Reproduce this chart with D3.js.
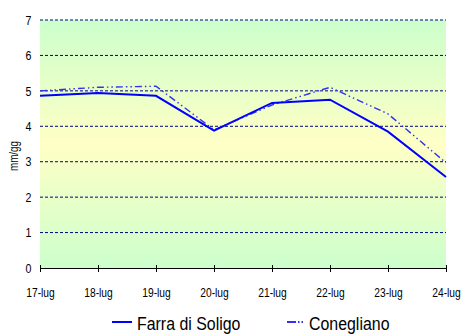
<!DOCTYPE html>
<html>
<head>
<meta charset="utf-8">
<script src="https://cdn.jsdelivr.net/npm/d3@7/dist/d3.min.js"></script>
<style>
  html, body { margin: 0; padding: 0; background: #fff; }
  svg { display: block; font-family: "Liberation Sans", Arial, sans-serif; }
</style>
</head>
<body>
<svg id="chart" width="461" height="334"></svg>
<script>
// Daily values (mm/gg) for two stations, 17-24 July
const days = ["17-lug", "18-lug", "19-lug", "20-lug", "21-lug", "22-lug", "23-lug", "24-lug"];
const farra = [4.86, 4.94, 4.86, 3.88, 4.66, 4.75, 3.85, 2.57];
const conegliano = [5.0, 5.1, 5.13, 3.9, 4.6, 5.1, 4.35, 2.97];
const yTicks = [0, 1, 2, 3, 4, 5, 6, 7];
const seriesNames = ["Farra di Soligo", "Conegliano"];

const svg = d3.select("#chart");
const plotLeft = 40, plotRight = 446, plotTop = 20, plotBottom = 268;
const narrow = "scale(0.82,1)"; // condensed lettering
const legendNarrow = "scale(0.86,1)";

const x = d3.scalePoint().domain(days).range([plotLeft, plotRight]);
const y = d3.scaleLinear().domain([0, 7]).range([plotBottom, plotTop]);

// Background gradient: green at the edges, pale yellow in the middle
const defs = svg.append("defs");
const grad = defs.append("linearGradient")
  .attr("id", "bg").attr("x1", 0).attr("y1", 0).attr("x2", 0).attr("y2", 1);
grad.append("stop").attr("offset", "0%").attr("stop-color", "#ccffcc");
grad.append("stop").attr("offset", "50%").attr("stop-color", "#ffffc6");
grad.append("stop").attr("offset", "100%").attr("stop-color", "#ccffcc");

svg.append("rect")
  .attr("x", plotLeft).attr("y", plotTop)
  .attr("width", plotRight - plotLeft).attr("height", plotBottom - plotTop)
  .attr("fill", "url(#bg)");

// Dashed horizontal gridlines
svg.append("g").selectAll("line")
  .data(yTicks.filter(d => d > 0))
  .join("line")
  .attr("x1", plotLeft).attr("x2", plotRight)
  .attr("y1", d => y(d)).attr("y2", d => y(d))
  .attr("stroke", "#000080")
  .attr("stroke-width", 1)
  .attr("stroke-dasharray", "3,2");

// Y tick labels
svg.append("g").selectAll("text")
  .data(yTicks)
  .join("text")
  .attr("transform", d => `translate(31.5,${y(d)}) ${narrow}`)
  .attr("dy", "0.36em")
  .attr("text-anchor", "end")
  .attr("font-size", 13)
  .attr("fill", "#000")
  .text(d => d);

// Y axis title
svg.append("text")
  .attr("transform", `translate(18,156) rotate(-90) ${narrow}`)
  .attr("text-anchor", "middle")
  .attr("font-size", 12)
  .attr("fill", "#000")
  .text("mm/gg");

// X axis with ticks crossing the baseline
const xAxis = d3.axisBottom(x).tickSize(4).tickSizeOuter(0).tickPadding(16);
const gx = svg.append("g")
  .attr("transform", `translate(0,${plotBottom})`)
  .call(xAxis);
gx.select(".domain").attr("stroke", "#000").attr("stroke-width", 1.2);
gx.selectAll(".tick line").attr("y1", -3).attr("y2", 4).attr("stroke", "#000");
gx.selectAll(".tick text")
  .attr("transform", narrow)
  .attr("font-size", 12.5)
  .attr("font-family", "Liberation Sans, Arial, sans-serif")
  .attr("fill", "#000");

// Series lines
const line = d3.line().x((d, i) => x(days[i])).y(d => y(d));

svg.append("path")
  .datum(conegliano)
  .attr("fill", "none")
  .attr("stroke", "#3333ee")
  .attr("stroke-width", 1.4)
  .attr("stroke-dasharray", "7,3,1.5,3,1.5,3")
  .attr("d", line);

svg.append("path")
  .datum(farra)
  .attr("fill", "none")
  .attr("stroke", "#0000ff")
  .attr("stroke-width", 2)
  .attr("d", line);

// Legend
const legend = svg.append("g").attr("font-size", 18.5).attr("fill", "#000");
legend.append("line")
  .attr("x1", 112).attr("x2", 132).attr("y1", 322).attr("y2", 322)
  .attr("stroke", "#0000ff").attr("stroke-width", 2);
legend.append("text")
  .attr("transform", `translate(137,330) ${legendNarrow}`)
  .text(seriesNames[0]);
legend.append("line")
  .attr("x1", 287).attr("x2", 304).attr("y1", 322).attr("y2", 322)
  .attr("stroke", "#3333ee").attr("stroke-width", 2)
  .attr("stroke-dasharray", "9,2,1.5,2,1.5,2");
legend.append("text")
  .attr("transform", `translate(309,330) ${legendNarrow}`)
  .text(seriesNames[1]);
</script>
</body>
</html>
